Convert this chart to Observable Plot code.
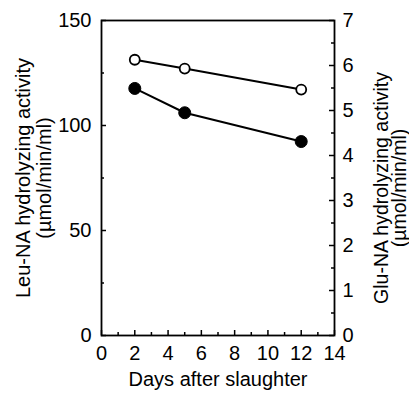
<!DOCTYPE html>
<html>
<head>
<meta charset="utf-8">
<script src="https://cdn.jsdelivr.net/npm/d3@7"></script>
<script src="https://cdn.jsdelivr.net/npm/@observablehq/plot@0.6"></script>
<style>
  html, body { margin: 0; padding: 0; background: #fff; }
  #chart svg { display: block; }
</style>
</head>
<body>
<div id="chart"></div>
<script>
// Days after slaughter
const days = [2, 5, 12];
// Leu-NA hydrolyzing activity (µmol/min/ml), open circles, left axis
const leuValues = [131.3, 127.1, 117.1];
// Glu-NA hydrolyzing activity (µmol/min/ml), filled circles, right axis
const gluValues = [5.49, 4.95, 4.31];

// Axis ticks / labels
const xMajorTicks = [0, 2, 4, 6, 8, 10, 12, 14];
const xMinorTicks = [1, 3, 5, 7, 9, 11, 13];
const leftMajorTicks = [0, 50, 100, 150];
const leftMinorTicks = [25, 75, 125];
const rightMajorTicks = [0, 1, 2, 3, 4, 5, 6, 7];
const rightMinorTicks = [0.5, 1.5, 2.5, 3.5, 4.5, 5.5, 6.5];

const xTitle = "Days after slaughter";
const leftTitle = "Leu-NA hydrolyzing activity\n(µmol/min/ml)";
const rightTitle = "Glu-NA hydrolyzing activity\n(µmol/min/ml)";

const leftMax = 150, rightMax = 7;
const toLeft = v => v * leftMax / rightMax;   // map right-axis units onto the shared y scale

const leu = days.map((d, i) => ({day: d, value: leuValues[i]}));
const glu = days.map((d, i) => ({day: d, value: gluValues[i]}));

const W = 409, H = 393;
const mL = 101, mR = 75, mT = 20, mB = 58;
const pw = W - mL - mR, ph = H - mT - mB;
const font = "'Liberation Sans', Arial, Helvetica, sans-serif";

const chart = Plot.plot({
  width: W,
  height: H,
  marginLeft: mL,
  marginRight: mR,
  marginTop: mT,
  marginBottom: mB,
  style: {fontFamily: font, fontSize: "20px", color: "#000", background: "#fff"},
  x: {domain: [0, 14]},
  y: {domain: [0, leftMax]},
  marks: [
    Plot.frame({stroke: "#000", strokeWidth: 1.8}),
    // inward ticks
    Plot.tickX(xMajorTicks, {x: d => d, insetTop: ph - 5, stroke: "#000", strokeWidth: 1.5}),
    Plot.tickX(xMinorTicks, {x: d => d, insetTop: ph - 3, stroke: "#000", strokeWidth: 1.5}),
    Plot.tickY(leftMajorTicks, {y: d => d, insetRight: pw - 5, stroke: "#000", strokeWidth: 1.5}),
    Plot.tickY(leftMinorTicks, {y: d => d, insetRight: pw - 3, stroke: "#000", strokeWidth: 1.5}),
    Plot.tickY(rightMajorTicks, {y: d => toLeft(d), insetLeft: pw - 5, stroke: "#000", strokeWidth: 1.5}),
    Plot.tickY(rightMinorTicks, {y: d => toLeft(d), insetLeft: pw - 3, stroke: "#000", strokeWidth: 1.5}),
    // tick labels
    Plot.axisX(xMajorTicks, {tickSize: 0, tickPadding: 10, label: null, fontSize: 20, fill: "#000"}),
    Plot.axisY(leftMajorTicks, {anchor: "left", tickSize: 0, tickPadding: 10, label: null, fontSize: 20, fill: "#000"}),
    Plot.axisY(rightMajorTicks.map(toLeft), {anchor: "right", tickSize: 0, tickPadding: 8, label: null, fontSize: 20, fill: "#000",
      tickFormat: d => String(Math.round(d * rightMax / leftMax))}),
    // titles
    Plot.text([xTitle], {frameAnchor: "bottom", text: d => d, textAnchor: "middle", lineAnchor: "middle", dy: 44, fontSize: 20, fill: "#000"}),
    Plot.text([leftTitle], {frameAnchor: "left", text: d => d, textAnchor: "middle", lineAnchor: "middle", rotate: -90, dx: -68, dy: 0, fontSize: 20, lineHeight: 1.05, fill: "#000"}),
    Plot.text([rightTitle], {frameAnchor: "right", text: d => d, textAnchor: "middle", lineAnchor: "middle", rotate: -90, dx: 57, dy: 10, fontSize: 19.5, lineHeight: 0.93, fill: "#000"}),
    // series
    Plot.line(leu, {x: "day", y: "value", stroke: "#000", strokeWidth: 2}),
    Plot.line(glu, {x: "day", y: d => toLeft(d.value), stroke: "#000", strokeWidth: 2}),
    Plot.dot(leu, {x: "day", y: "value", r: 5, fill: "#fff", stroke: "#000", strokeWidth: 1.8}),
    Plot.dot(glu, {x: "day", y: d => toLeft(d.value), r: 6, fill: "#000", stroke: "#000", strokeWidth: 1})
  ]
});

document.getElementById("chart").appendChild(chart);
</script>
</body>
</html>
